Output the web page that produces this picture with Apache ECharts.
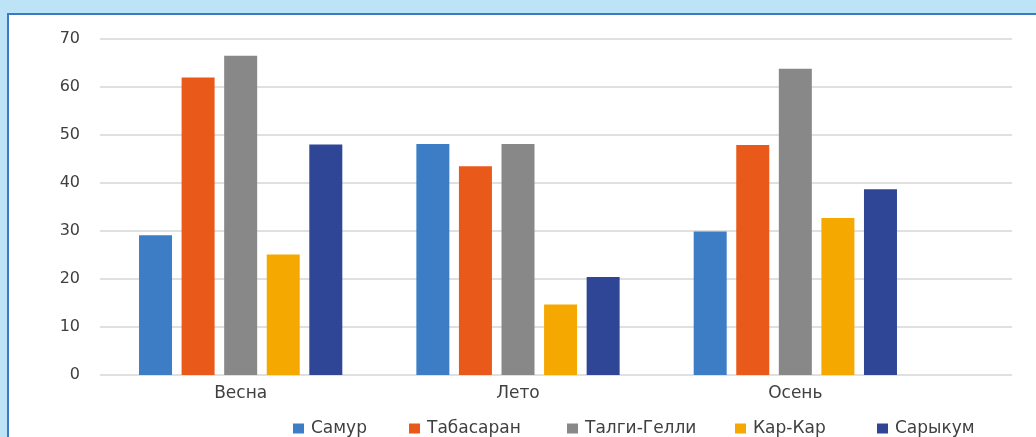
<!DOCTYPE html>
<html lang="ru">
<head>
    <meta charset="UTF-8">
    <title>Диаграмма</title>
    <script src="https://cdn.jsdelivr.net/npm/echarts@6/dist/echarts.min.js"></script>
    <style>
        html, body { margin: 0; padding: 0; }
        #wrap { position: relative; width: 1036px; height: 437px; background: #bde3f7; overflow: hidden; }
        #chart {
            position: absolute; left: 7px; top: 13px;
            width: 1029px; height: 424px;
            border-left: 2px solid #3b7bc6; border-top: 2px solid #3b7bc6;
            background: #fff;
        }
    </style>
</head>
<body>
<div id="wrap">
    <div id="chart"></div>
</div>
<script>
    // данные
    var seasons = ['Весна', 'Лето', 'Осень'];
    var names = ['Самур', 'Табасаран', 'Талги-Гелли', 'Кар-Кар', 'Сарыкум'];
    var samur = [29.1, 48.1, 29.9];
    var tabasaran = [62, 43.5, 47.9];
    var talgi = [66.5, 48.1, 63.8];
    var karkar = [25.1, 14.7, 32.7];
    var sarykum = [48, 20.4, 38.7];
    var yTicks = [0, 10, 20, 30, 40, 50, 60, 70];

    var colors = ['#3c7dc6', '#e8591a', '#888888', '#f5a800', '#2e4695'];
    var values = [samur, tabasaran, talgi, karkar, sarykum];
    var legendLeft = [284, 400, 558, 726, 868];   // положение пунктов легенды

    var font = 'DejaVu Sans';
    var myChart = echarts.init(document.getElementById('chart'));

    var series = [];
    for (var i = 0; i < names.length; i++) {
        series.push({
            name: names[i],
            type: 'bar',
            xAxisIndex: 0,
            yAxisIndex: 0,
            barWidth: 33,
            barGap: '29%',
            itemStyle: { color: colors[i] },
            data: values[i]
        });
    }

    var legends = [];
    for (var j = 0; j < names.length; j++) {
        legends.push({
            data: [names[j]],
            left: legendLeft[j],
            top: 405,
            padding: 0,
            itemWidth: 11,
            itemHeight: 10,
            icon: 'rect',
            textStyle: { fontFamily: font, fontSize: 17, color: '#404040', padding: [0, 0, 0, 2] }
        });
    }

    myChart.setOption({
        animation: false,
        legend: legends,
        grid: [
            { left: 93, width: 832, top: 24, height: 336 },   // столбцы
            { left: 91, right: 26, top: 24, height: 336 }     // сетка
        ],
        xAxis: [
            {
                type: 'category',
                gridIndex: 0,
                data: seasons,
                axisLine: { show: false },
                axisTick: { show: false },
                axisLabel: { fontFamily: font, fontSize: 17, color: '#404040', margin: 10 }
            },
            {
                type: 'value',
                gridIndex: 1,
                show: false
            }
        ],
        yAxis: [
            {
                type: 'value',
                gridIndex: 0,
                min: 0, max: 70, interval: 10,
                show: false,
                splitLine: { show: false }
            },
            {
                type: 'value',
                gridIndex: 1,
                min: yTicks[0], max: yTicks[yTicks.length - 1], interval: 10,
                axisLine: { show: false },
                axisTick: { show: false },
                axisLabel: { fontFamily: font, fontSize: 16, color: '#404040', margin: 20 },
                splitLine: { lineStyle: { color: '#e0e0e0', width: 2 } }
            }
        ],
        series: series
    });
</script>
</body>
</html>
